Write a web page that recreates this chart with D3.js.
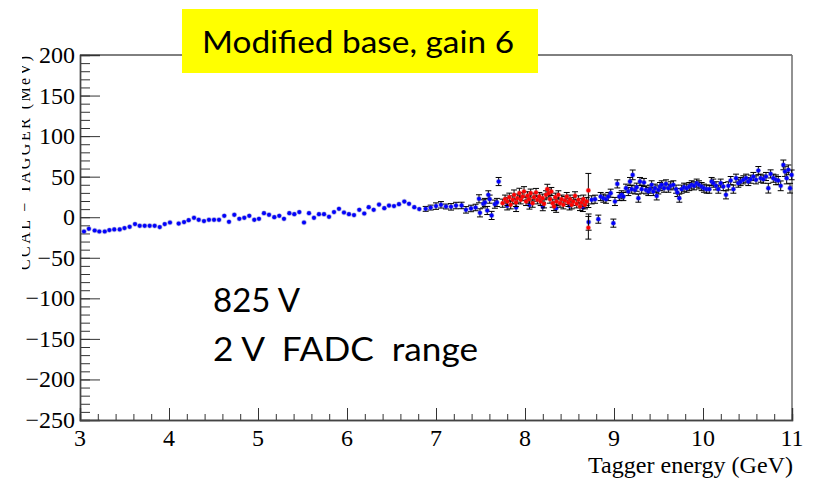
<!DOCTYPE html>
<html><head><meta charset="utf-8">
<script src="https://cdn.jsdelivr.net/npm/d3@7"></script>
<style>body{margin:0;background:#fff}</style>
</head><body><svg id="c" width="813" height="480"></svg>
<script>
// ---- data ----
const blueX = [3.045,3.100,3.165,3.217,3.278,3.330,3.385,3.446,3.500,3.558,3.618,3.671,3.727,3.783,3.839,3.896,3.952,4.011,4.109,4.169,4.221,4.281,4.334,4.393,
  4.449,4.506,4.562,4.621,4.674,4.734,4.790,4.846,4.902,4.958,5.011,5.067,5.124,5.183,5.239,5.292,5.352,5.408,5.464,5.517,5.573,5.629,5.685,5.742,5.798,5.854,
  5.910,5.966,6.022,6.079,6.138,6.194,6.244,6.300,6.360,6.419,6.472,6.528,6.584,6.644,6.697,6.756,6.812,
  6.884,6.940,7.000,7.056,7.112,7.169,7.225,7.288,7.337,7.393,7.445,7.494,7.483,7.531,7.550,7.576,7.588,7.603,7.625,7.662,7.685,7.704,
  7.80,7.90,8.05,8.20,8.35,8.50,8.65,8.715,
  8.749,8.787,8.824,8.850,8.880,8.910,8.936,8.963,8.993,9.011,9.037,9.060,9.086,9.105,9.135,9.161,9.180,9.199,9.210,9.236,9.255,9.274,9.292,9.311,9.337,9.360,
  9.386,9.405,9.423,9.442,9.461,9.480,9.498,9.517,9.536,9.562,9.584,9.611,9.637,9.667,9.697,9.712,9.734,9.760,9.787,9.817,9.846,9.873,9.899,9.929,9.955,9.985,
  10.011,10.041,10.071,10.097,10.116,10.146,10.172,10.199,10.228,10.258,10.285,10.311,10.341,10.371,10.397,10.423,10.453,10.483,10.509,10.536,10.566,10.596,
  10.622,10.648,10.678,10.708,10.734,10.760,10.790,10.820,10.846,10.873,10.903,10.921,10.940,10.959,10.978,10.996];
const blueY = [-17.6,-14.3,-16.4,-17.6,-17.6,-15.9,-15.1,-15.1,-13.4,-11.8,-8.5,-10.6,-10.6,-10.6,-10.6,-12.2,-8.5,-6.5,-7.8,-6.0,-3.6,-0.7,-3.2,-4.8,
  -3.2,-3.2,-3.2,1.7,-5.7,3.0,-2.0,-0.7,1.7,-3.2,-2.0,5.0,3.0,0.1,1.7,-2.0,5.0,3.8,6.3,-6.5,5.0,-0.7,3.8,3.8,0.5,6.3,
  10.3,5.8,3.8,2.6,9.1,4.6,12.4,9.1,15.6,11.2,14.4,13.7,16.1,19.3,16.5,12.4,10.0,
  10.3,11.9,13.7,15.3,13.2,12.8,14.4,14.5,9.1,10.8,12.0,5.4,22.7,16.5,18.2,8.3,27.6,22.3,2.2,16.1,18.2,44.0,
  14,12,15,13,11,14,12,-6,
  21.4,22.2,-2.4,25.5,23.5,22.2,25.5,29.6,-7.3,19.4,41.1,25.5,27.6,25.5,35.8,31.7,44.0,34.6,52.2,33.7,37.0,23.5,44.0,34.6,42.8,33.7,
  31.7,34.6,39.9,31.7,35.8,26.3,33.7,37.8,39.9,35.8,41.1,35.8,38.7,39.9,34.6,30.5,23.5,34.6,37.0,35.8,37.8,39.9,38.7,42.0,39.9,37.8,
  35.8,34.6,34.6,44.0,42.0,38.7,34.6,42.0,37.8,27.6,38.7,45.2,34.6,48.1,42.0,44.0,46.1,48.1,44.0,46.9,50.2,46.1,
  57.5,48.1,46.9,50.2,35.8,53.4,48.1,46.1,45.2,38.7,64.5,56.3,48.1,58.4,35.8,52.2];
const blueErr = [0,0,0,0,0,0,0,0,0,0,0,0,0,0,0,0,0,0,0,0,0,0,0,0,
  0,0,0,0,0,0,0,0,0,0,0,0,0,0,0,0,0,0,0,0,0,0,0,0,0,0,
  0,0,0,0,0,0,0,0,0,0,0,0,0,0,0,0,0,
  3,3,4,4,3,4,4,4,4,4,4,5,5,5,5,5,5,5,5,5,5,5,
  5,5,5,5,5,5,5,10,
  5,5,5,5,5,5,5,5,5,5,5,5,5,5,5,5,5,5,6,5,5,5,5,5,5,5,
  5,5,5,5,5,5,5,5,5,5,5,5,5,5,5,5,5,5,5,5,5,5,5,5,5,5,
  5,5,5,5,5,5,5,5,5,5,5,5,5,5,5,5,5,5,5,5,5,5,
  5,5,5,5,6,5,5,6,5,6,6,6,7,6,6,6];
const redX = [7.749,7.776,7.802,7.824,7.839,7.862,7.877,7.899,7.914,7.937,7.952,7.974,7.989,8.012,8.027,8.045,8.064,8.086,8.101,8.124,8.139,8.161,8.176,8.199,
  8.214,8.236,8.251,8.266,8.281,8.296,8.311,8.326,8.341,8.356,8.375,8.394,8.412,8.431,8.450,8.469,8.487,8.506,8.525,8.543,8.562,8.581,8.600,8.618,8.637,8.656,
  8.674,8.693,8.712,8.712];
const redY = [17.3,22.3,19.4,24.7,15.3,21.4,27.6,18.2,23.5,29.7,21.4,25.5,31.7,19.4,26.4,22.3,29.7,17.3,24.7,30.5,21.4,25.5,19.4,23.5,
  16.5,27.6,34.6,29.7,22.3,31.7,17.3,13.2,24.7,19.4,27.6,17.3,22.3,15.3,20.6,25.5,18.2,22.3,15.3,19.4,26.4,16.5,21.4,13.2,18.2,22.3,
  15.3,19.4,33.0,-13.0];
const redErr = [5,5,5,5,5,5,6,5,5,6,5,5,6,5,5,5,5,5,5,5,5,5,5,5,
  5,5,6,5,5,5,5,5,5,5,5,5,5,5,5,5,5,5,5,5,5,5,5,5,5,5,
  5,5,21,14];
const xTicks = [3,4,5,6,7,8,9,10,11];
const yTicks = [-250,-200,-150,-100,-50,0,50,100,150,200];
const title = "Modified base, gain 6";
const notes = ["825 V", "2 V  FADC  range"];
const xLabel = "Tagger energy (GeV)";
const yLabel = "CCAL \u2212 TAGGER (MeV)";

// ---- drawing ----
const svg = d3.select("#c");
const x = d3.scaleLinear().domain([3, 11]).range([80, 792]);
const y = d3.scaleLinear().domain([-250, 200]).range([420, 55]);
const fmt = d3.format("");
const serif = "'Liberation Serif','Times New Roman',serif";

// frame top & right
svg.append("line").attr("x1", 80).attr("x2", 792).attr("y1", y(200)).attr("y2", y(200)).attr("stroke", "#000").attr("stroke-width", 1);
svg.append("line").attr("x1", x(11)).attr("x2", x(11)).attr("y1", y(200)).attr("y2", y(-250)).attr("stroke", "#777").attr("stroke-width", 1.6);

// y axis
const gy = svg.append("g").attr("transform", "translate(80,0)");
gy.call(d3.axisLeft(y).tickValues(d3.range(-250, 201, 10)).tickSize(-10).tickFormat(""));
gy.append("g").call(d3.axisLeft(y).tickValues(yTicks).tickSize(-20).tickFormat(""));
gy.selectAll("path.domain").attr("stroke", "#444").attr("stroke-width", 1.4);
gy.selectAll("line").attr("stroke", "#333");
svg.append("g").selectAll("text").data(yTicks).join("text")
  .attr("x", 75).attr("y", d => y(d) + 8).attr("text-anchor", "end")
  .attr("font-family", serif).attr("font-size", 24).attr("fill", "#000")
  .text(d => d3.format("")(d).replace("-", "\u2212"));

// x axis
const gx = svg.append("g").attr("transform", "translate(0,420)");
gx.call(d3.axisBottom(x).tickValues(d3.range(3, 11.001, 0.2)).tickSize(-6).tickFormat(""));
gx.append("g").call(d3.axisBottom(x).tickValues(xTicks).tickSize(-12).tickFormat(""));
gx.selectAll("path.domain").attr("stroke", "#444").attr("stroke-width", 1.4);
gx.selectAll("line").attr("stroke", "#333");
svg.append("g").selectAll("text").data(xTicks).join("text")
  .attr("x", d => x(d)).attr("y", 446).attr("text-anchor", "middle")
  .attr("font-family", serif).attr("font-size", 24).attr("fill", "#000")
  .text(d => fmt(d));

svg.append("text").attr("x", 793).attr("y", 473).attr("text-anchor", "end")
  .attr("font-family", serif).attr("font-size", 23).attr("fill", "#000")
  .attr("textLength", 205).attr("lengthAdjust", "spacingAndGlyphs").text(xLabel);

// y label (mostly cut off at the left edge)
svg.append("clipPath").attr("id", "yclip").append("rect").attr("x", 22).attr("y", 0).attr("width", 20).attr("height", 480);
svg.append("g").attr("clip-path", "url(#yclip)").append("text")
  .attr("transform", "translate(30,270) rotate(-90)")
  .attr("font-family", serif).attr("font-size", 16).attr("fill", "#000")
  .attr("textLength", 214).attr("lengthAdjust", "spacing").text(yLabel);

// data marks
function drawSeries(xs, ys, es, color, halo) {
  const pts = d3.zip(xs, ys, es);
  const g = svg.append("g");
  const eb = g.append("g").attr("stroke", "#000").attr("stroke-width", 1);
  pts.filter(p => p[2] > 0).forEach(p => {
    const cx = x(p[0]), y0 = y(p[1] - p[2]), y1 = y(p[1] + p[2]);
    eb.append("line").attr("x1", cx).attr("x2", cx).attr("y1", y0).attr("y2", y1);
    eb.append("line").attr("x1", cx - 3).attr("x2", cx + 3).attr("y1", y0).attr("y2", y0);
    eb.append("line").attr("x1", cx - 3).attr("x2", cx + 3).attr("y1", y1).attr("y2", y1);
  });
  g.append("g").selectAll("circle").data(pts).join("circle")
    .attr("cx", p => x(p[0])).attr("cy", p => y(p[1])).attr("r", 2.1)
    .attr("fill", color).attr("stroke", halo).attr("stroke-width", 1.2);
}
drawSeries(blueX, blueY, blueErr, "#0000ff", "rgba(60,60,200,0.35)");
drawSeries(redX, redY, redErr, "#ff0000", "rgba(220,60,60,0.35)");

// yellow title box
svg.append("rect").attr("x", 182).attr("y", 9).attr("width", 356).attr("height", 64).attr("fill", "#ffff00");
svg.append("text").attr("x", 202).attr("y", 53).attr("font-family", "Lato, 'Open Sans', sans-serif")
  .attr("font-size", 31).attr("fill", "#000").attr("textLength", 312).attr("lengthAdjust", "spacingAndGlyphs").text(title);

// annotations
const noteY = [312, 361], noteW = [87, 265];
notes.forEach((t, i) => {
  svg.append("text").attr("x", 213).attr("y", noteY[i]).attr("font-family", "Lato, 'Open Sans', sans-serif")
    .attr("font-size", 32).attr("fill", "#000").style("white-space", "pre")
    .attr("textLength", noteW[i]).attr("lengthAdjust", "spacingAndGlyphs").text(t);
});
</script></body></html>
